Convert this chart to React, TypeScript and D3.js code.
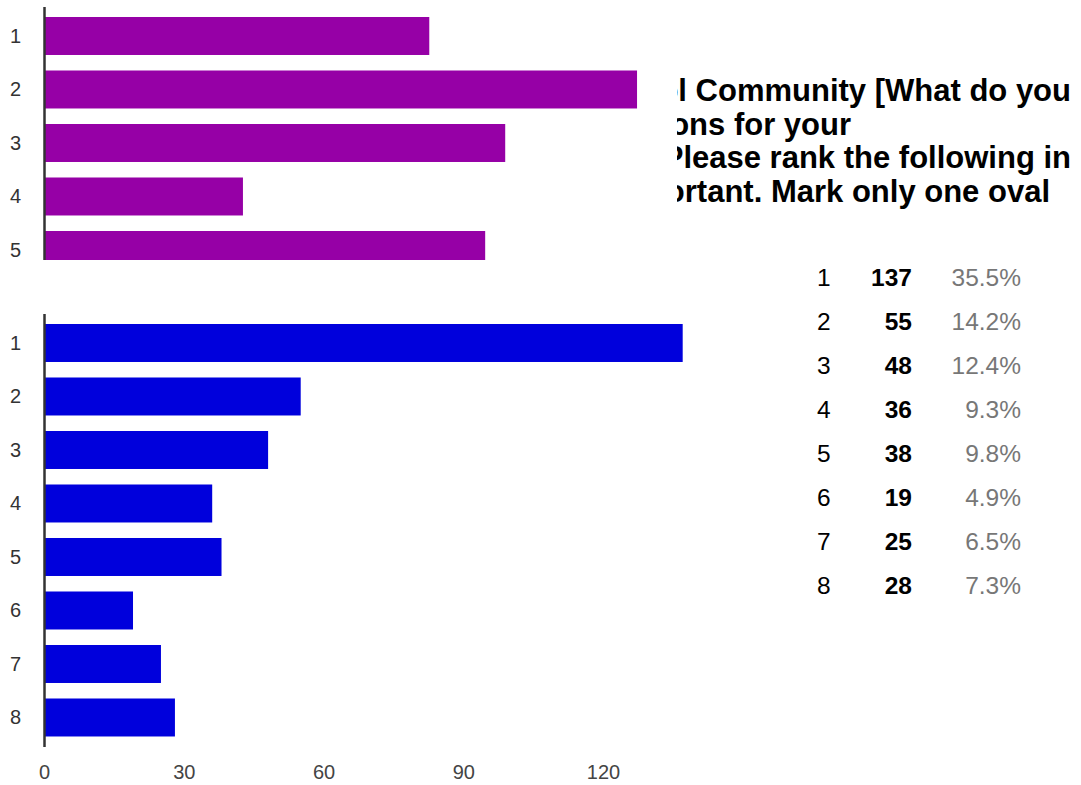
import React from 'react';
import * as d3 from 'd3';

const topCategories = ['1', '2', '3', '4', '5'];
const topValues = [82.6, 127.2, 98.9, 42.6, 94.6];
const bottomCategories = ['1', '2', '3', '4', '5', '6', '7', '8'];
const bottomValues = [137, 55, 48, 36, 38, 19, 25, 28];
const percentLabels = ['35.5%', '14.2%', '12.4%', '9.3%', '9.8%', '4.9%', '6.5%', '7.3%'];
const xTicks = [0, 30, 60, 90, 120];
const titleLines = [
  'ol Community [What do you',
  'ons for your',
  'Please rank the following in',
  'portant. Mark only one oval',
];
const titleRightEnds = [1071, 851, 1071, 1050];

const W = 1081;
const H = 785;
const FONT = 'Arial, "Liberation Sans", sans-serif';

export default function App() {
  const x = d3.scaleLinear().domain([0, 120]).range([44.5, 603.5]);
  const step = 53.5;
  const yTop = d3
    .scaleBand<string>()
    .domain(topCategories)
    .range([9.24, 9.24 + topCategories.length * step])
    .paddingInner(0.29)
    .paddingOuter(0.145);
  const yBot = d3
    .scaleBand<string>()
    .domain(bottomCategories)
    .range([316.24, 316.24 + bottomCategories.length * step])
    .paddingInner(0.29)
    .paddingOuter(0.145);
  const rowY = d3.scaleLinear().domain([0, 1]).range([277, 321]);

  return (
    <svg
      width={W}
      height={H}
      style={{ position: 'absolute', left: 0, top: 0, background: '#fff' }}
      fontFamily={FONT}
    >
      <defs>
        <clipPath id="topClip">
          <rect x={0} y={0} width={W} height={260} />
        </clipPath>
        <clipPath id="titleClip">
          <rect x={677} y={0} width={W - 677} height={260} />
        </clipPath>
      </defs>
      <rect x={0} y={0} width={W} height={H} fill="#fff" />

      {/* top (purple) chart, cropped */}
      <g clipPath="url(#topClip)">
        {topCategories.map((c, i) => (
          <rect
            key={c}
            x={x(0)}
            y={yTop(c)}
            width={x(topValues[i]) - x(0)}
            height={yTop.bandwidth()}
            fill="#9600a6"
          />
        ))}
        {topCategories.map((c) => (
          <text
            key={'l' + c}
            x={21}
            y={(yTop(c) as number) + yTop.bandwidth() / 2}
            dy="0.35em"
            textAnchor="end"
            fontSize={20}
            fill="#333"
          >
            {c}
          </text>
        ))}
        <line x1={x(0)} x2={x(0)} y1={7} y2={260} stroke="#333" strokeWidth={2.5} />
      </g>

      {/* bottom (blue) chart */}
      {bottomCategories.map((c, i) => (
        <rect
          key={c}
          x={x(0)}
          y={yBot(c)}
          width={x(bottomValues[i]) - x(0)}
          height={yBot.bandwidth()}
          fill="#0000dc"
        />
      ))}
      {bottomCategories.map((c) => (
        <text
          key={'b' + c}
          x={21}
          y={(yBot(c) as number) + yBot.bandwidth() / 2}
          dy="0.35em"
          textAnchor="end"
          fontSize={20}
          fill="#333"
        >
          {c}
        </text>
      ))}
      <line x1={x(0)} x2={x(0)} y1={314} y2={747} stroke="#333" strokeWidth={2.5} />
      {xTicks.map((t) => (
        <text key={'t' + t} x={x(t)} y={779} textAnchor="middle" fontSize={20} fill="#444">
          {t}
        </text>
      ))}

      {/* title, clipped on the left */}
      <g clipPath="url(#titleClip)">
        {titleLines.map((line, i) => (
          <text
            key={'title' + i}
            x={titleRightEnds[i]}
            y={101 + i * 33.5}
            textAnchor="end"
            fontSize={31}
            fontWeight="bold"
            fill="#000"
          >
            {line}
          </text>
        ))}
      </g>

      {/* table */}
      {bottomCategories.map((c, i) => (
        <g key={'row' + c}>
          <text x={817} y={rowY(i)} dy="0.35em" fontSize={24.5} fill="#000">
            {c}
          </text>
          <text x={912} y={rowY(i)} dy="0.35em" textAnchor="end" fontSize={24.5} fontWeight="bold" fill="#000">
            {bottomValues[i]}
          </text>
          <text x={1021} y={rowY(i)} dy="0.35em" textAnchor="end" fontSize={24.5} fill="#777">
            {percentLabels[i]}
          </text>
        </g>
      ))}
    </svg>
  );
}
